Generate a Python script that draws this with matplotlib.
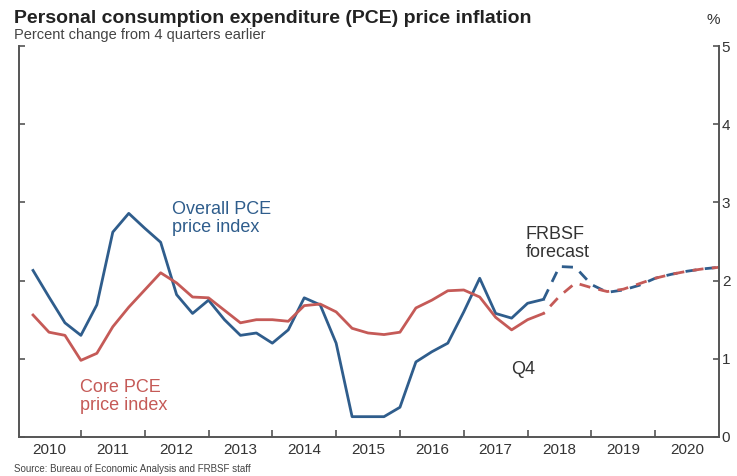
import matplotlib
matplotlib.use("Agg")
import matplotlib.pyplot as plt
import numpy as np

plt.rcParams['font.family'] = ['Liberation Sans', 'DejaVu Sans']

# Quarterly history 2010Q1 .. 2018Q1 (percent change from 4 quarters earlier)
hist_quarters = [2010 + q / 4 for q in range(1, 34)]
overall_hist = [2.13, 1.79, 1.46, 1.30, 1.69, 2.62, 2.86, 2.67, 2.49, 1.82, 1.58, 1.75,
                1.50, 1.30, 1.33, 1.20, 1.37, 1.78, 1.69, 1.20, 0.26, 0.26, 0.26, 0.38,
                0.96, 1.09, 1.20, 1.60, 2.03, 1.58, 1.52, 1.71, 1.76]
core_hist = [1.56, 1.34, 1.30, 0.98, 1.07, 1.41, 1.66, 1.88, 2.10, 1.97, 1.79, 1.78,
             1.62, 1.46, 1.50, 1.50, 1.48, 1.68, 1.70, 1.60, 1.39, 1.33, 1.31, 1.34,
             1.65, 1.75, 1.87, 1.88, 1.79, 1.53, 1.37, 1.50, 1.58]

# FRBSF forecast 2018Q1 .. 2020Q4
fc_quarters = [2018 + q / 4 for q in range(1, 13)]
overall_fc = [1.76, 2.18, 2.17, 1.95, 1.85, 1.88, 1.94, 2.03, 2.08, 2.12, 2.15, 2.17]
core_fc = [1.58, 1.80, 1.97, 1.91, 1.86, 1.89, 1.96, 2.03, 2.08, 2.12, 2.15, 2.17]

years = list(range(2010, 2021))
yticks = [0, 1, 2, 3, 4, 5]

BLUE = '#2F5D8C'
RED = '#C55A57'
GRAY = '#555555'
TXT = '#333333'

fig = plt.figure(figsize=(7.37, 4.76), dpi=100)
ax = fig.add_axes([19 / 737, 1 - 437 / 476, 700 / 737, 391 / 476])

ax.plot(hist_quarters, overall_hist, color=BLUE, lw=2.0, solid_joinstyle='round')
ax.plot(hist_quarters, core_hist, color=RED, lw=2.0, solid_joinstyle='round')
ax.plot(fc_quarters, overall_fc, color=BLUE, lw=2.0, linestyle=(0, (4, 3)))
ax.plot(fc_quarters, core_fc, color=RED, lw=2.0, linestyle=(3.5, (4, 3)))

ax.set_xlim(2010.03, 2021.0)
ax.set_ylim(0, 5)

ax.spines['top'].set_visible(False)
for s in ['left', 'right', 'bottom']:
    ax.spines[s].set_color(GRAY)
    ax.spines[s].set_linewidth(1.4)

ax.set_xticks([y for y in years[1:]])
ax.set_xticklabels([])
ax.set_xticks([y + 0.5 for y in years], minor=True)
ax.set_xticklabels([str(y) for y in years], minor=True)
ax.tick_params(axis='x', which='major', direction='in', length=5, width=1.2, color=GRAY)
ax.tick_params(axis='x', which='minor', length=0, labelsize=11, labelcolor=TXT, pad=4)

ax.set_yticks(yticks)
ax.yaxis.set_ticks_position('both')
ax.tick_params(axis='y', which='major', direction='in', length=4, width=1.2, color=GRAY,
               left=True, right=True, labelleft=False, labelright=True,
               labelsize=11, labelcolor=TXT, pad=2)

# Annotations
ann_fs = 13
ax.text(2012.42, 3.02, 'Overall PCE\nprice index', color=BLUE, fontsize=ann_fs,
        va='top', ha='left', linespacing=1.12)
ax.text(2010.98, 0.74, 'Core PCE\nprice index', color=RED, fontsize=ann_fs,
        va='top', ha='left', linespacing=1.05)
ax.text(2017.97, 2.70, 'FRBSF\nforecast', color=TXT, fontsize=ann_fs,
        va='top', ha='left', linespacing=1.05)
ax.text(2017.75, 0.97, 'Q4', color=TXT, fontsize=ann_fs, va='top', ha='left')

# Titles
fig.text(14 / 737, 1 - 23 / 476, 'Personal consumption expenditure (PCE) price inflation',
         fontsize=14, fontweight='bold', color='#222222', ha='left', va='baseline')
fig.text(14 / 737, 1 - 39 / 476, 'Percent change from 4 quarters earlier',
         fontsize=10.5, color='#444444', ha='left', va='baseline')
fig.text(713 / 737, 1 - 24 / 476, '%', fontsize=11, color=TXT, ha='center', va='baseline')
fig.text(14 / 737, 1 - 472 / 476, 'Source: Bureau of Economic Analysis and FRBSF staff',
         fontsize=7, color='#444444', ha='left', va='baseline')

fig.savefig('out.png', dpi=100)
